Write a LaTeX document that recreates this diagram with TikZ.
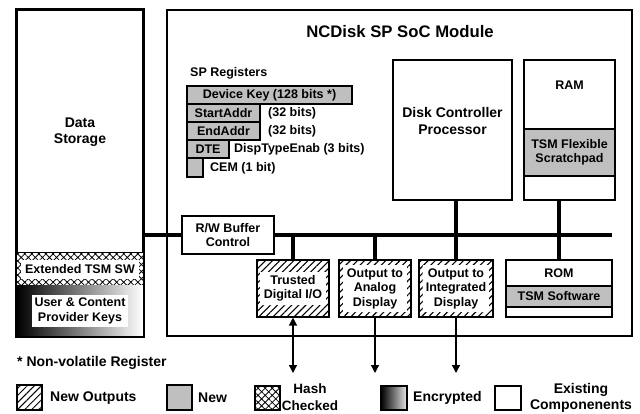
\documentclass[tikz,border=0pt]{standalone}
\usepackage{fontspec}
\setmainfont{Liberation Sans}
\usetikzlibrary{patterns,patterns.meta,arrows.meta}
\begin{document}
\begin{tikzpicture}[x=1pt,y=-1pt,
  lbl/.style={font=\fontsize{14}{16.5}\selectfont\bfseries, align=center, inner sep=0pt},
  sm/.style={font=\fontsize{12.5}{14.5}\selectfont\bfseries, align=center, inner sep=0pt},
  box/.style={draw, line width=1.7pt, inner sep=0pt, fill=white},
  reg/.style={draw, line width=1.6pt, inner sep=0pt, fill=black!25},
  newfill/.style={fill=black!25},
  hatchbox/.style={draw, line width=1.7pt, inner sep=0pt,
    preaction={fill=white}, pattern={Lines[angle=45,distance=5pt,line width=1.1pt]}},
  hashfill/.style={preaction={fill=white}, pattern={Hatch[angle=45,distance=5pt,line width=0.8pt]}},
  encfill/.style={left color=black, right color=white},
  whitetext/.style={sm, fill=white},
  bus/.style={line width=4.5pt},
  arr/.style={line width=1.3pt},
  tip/.style={-{Triangle[width=8pt,length=8pt]}},
]
\useasboundingbox (0,0) rectangle (640,413);

% ---------- Data Storage ----------
\node[box, minimum width=126pt, minimum height=326pt] (ds) at (80,173) {};
\node[lbl] (dstxt) at (80,132) {Data\\Storage};
\node[draw=none, inner sep=0pt, minimum width=126pt, minimum height=32pt, hashfill] (hash) at (80,269) {};
\node[whitetext, minimum width=118pt, minimum height=19pt] (hashtxt) at (80,269) {Extended TSM SW};
\node[draw=none, inner sep=0pt, minimum width=126pt, minimum height=51pt, encfill] (enc) at (80,310.5) {};
\node[whitetext, minimum width=96pt, minimum height=32pt] (enctxt) at (80,311) {User \& Content\\Provider Keys};
\draw[line width=1.7pt] (ds.north west) rectangle (ds.south east);
\draw[line width=1.5pt] (hash.north west) -- (hash.north east);

% ---------- SoC ----------
\node[box, minimum width=465pt, minimum height=326pt] (soc) at (399.5,173) {};
\node[font=\fontsize{16.7}{19}\selectfont\bfseries, inner sep=0pt] (title) at (400,32) {NCDisk SP SoC Module};

% registers
\node[sm, anchor=west] (sptxt) at (190,73) {SP Registers};
\node[reg, minimum width=165pt, minimum height=18pt] (dk) at (269.5,95) {};
\node[sm] at (dk) {Device Key (128 bits *)};
\node[reg, minimum width=73pt, minimum height=18pt] (sa) at (223.5,113) {};
\node[sm] at (sa) {StartAddr};
\node[reg, minimum width=73pt, minimum height=18pt] (ea) at (223.5,131) {};
\node[sm] at (ea) {EndAddr};
\node[reg, minimum width=42pt, minimum height=18pt] (dte) at (208,149) {};
\node[sm] at (dte) {DTE};
\node[reg, minimum width=16pt, minimum height=19pt] (cem) at (195,167.5) {};
\node[sm, anchor=west] (sab) at (268,113) {(32 bits)};
\node[sm, anchor=west] (eab) at (268,131) {(32 bits)};
\node[sm, anchor=west] (dteb) at (234,149) {DispTypeEnab (3 bits)};
\node[sm, anchor=west] (cemb) at (210,168) {CEM (1 bit)};

% disk controller
\node[box, minimum width=119pt, minimum height=140pt] (dcp) at (452.5,130) {};
\node[lbl] (dcptxt) at (452.5,121) {Disk Controller\\Processor};

% RAM
\node[box, minimum width=91pt, minimum height=140pt] (ram) at (569.5,130) {};
\node[sm] (ramtxt) at (569.5,85) {RAM};
\node[reg, minimum width=91pt, minimum height=47pt] (scr) at (569.5,152.5) {};
\node[sm] at (scr) {TSM Flexible\\Scratchpad};

% bus
\coordinate (busend) at (612,235);
\draw[bus] (ds.east |- busend) -- (busend);

% R/W buffer
\node[box, minimum width=92pt, minimum height=38pt] (rw) at (228,235) {};
\node[sm] at (rw) {R/W Buffer\\Control};

% outputs
\node[hatchbox, minimum width=72pt, minimum height=57pt] (trusted) at (293,288.5) {};
\node[whitetext, minimum width=66pt, minimum height=33pt] at (trusted) {Trusted\\Digital I/O};
\node[hatchbox, minimum width=72pt, minimum height=57pt] (analog) at (375,288.5) {};
\node[whitetext, minimum width=64pt, minimum height=47pt] at (analog) {Output to\\Analog\\Display};
\node[hatchbox, minimum width=74pt, minimum height=57pt] (integ) at (456,288.5) {};
\node[whitetext, minimum width=66pt, minimum height=47pt] at (integ) {Output to\\Integrated\\Display};

% ROM
\node[box, minimum width=106pt, minimum height=57pt] (rom) at (559,288.5) {};
\node[sm] (romtxt) at (559,273) {ROM};
\node[reg, minimum width=106pt, minimum height=21pt] (tsmsw) at (559,296.5) {};
\node[sm] at (tsmsw) {TSM Software};

% stubs
\draw[bus] (trusted.north) -- (trusted.north |- busend);
\draw[bus] (analog.north) -- (analog.north |- busend);
\draw[bus] (integ.north) -- (integ.north |- dcp.south);
\draw[bus] (rom.north) -- (rom.north |- ram.south);

% external arrows
\coordinate (t1) at (293,373);
\coordinate (a1) at (375,373);
\coordinate (i1) at (456,373);
\draw[arr, {Triangle[width=8pt,length=8pt]}-{Triangle[width=8pt,length=8pt]}] (trusted.south) -- (t1);
\draw[arr, tip] (analog.south) -- (a1);
\draw[arr, tip] (integ.south) -- (i1);

% footnote
\node[lbl, anchor=west] (nv) at (17,363) {* Non-volatile Register};

% legend
\node[draw, line width=1.2pt, minimum width=25pt, minimum height=25pt, inner sep=0pt,
  preaction={fill=white}, pattern={Lines[angle=45,distance=5pt,line width=1pt]}] (l1) at (29.5,397.5) {};
\node[lbl, anchor=west] at (50,398) {New Outputs};
\node[draw, line width=1.2pt, minimum width=25pt, minimum height=25pt, inner sep=0pt, newfill] (l2) at (179.5,397.5) {};
\node[lbl, anchor=west] at (198,398) {New};
\node[draw, line width=1.2pt, minimum width=25pt, minimum height=24pt, inner sep=0pt, hashfill] (l3) at (267.5,398) {};
\node[font=\fontsize{13.5}{17}\selectfont\bfseries, align=center, inner sep=0pt] at (310,397) {Hash\\Checked};
\node[draw, line width=1.2pt, minimum width=26pt, minimum height=24pt, inner sep=0pt, left color=black, right color=black!10] (l4) at (394,398) {};
\node[lbl, anchor=west] at (413,398) {Encrypted};
\node[draw, line width=1.2pt, minimum width=26pt, minimum height=24pt, inner sep=0pt, fill=white] (l5) at (508,398) {};
\node[lbl] at (581,398) {Existing\\Componenents};
\end{tikzpicture}
\end{document}
